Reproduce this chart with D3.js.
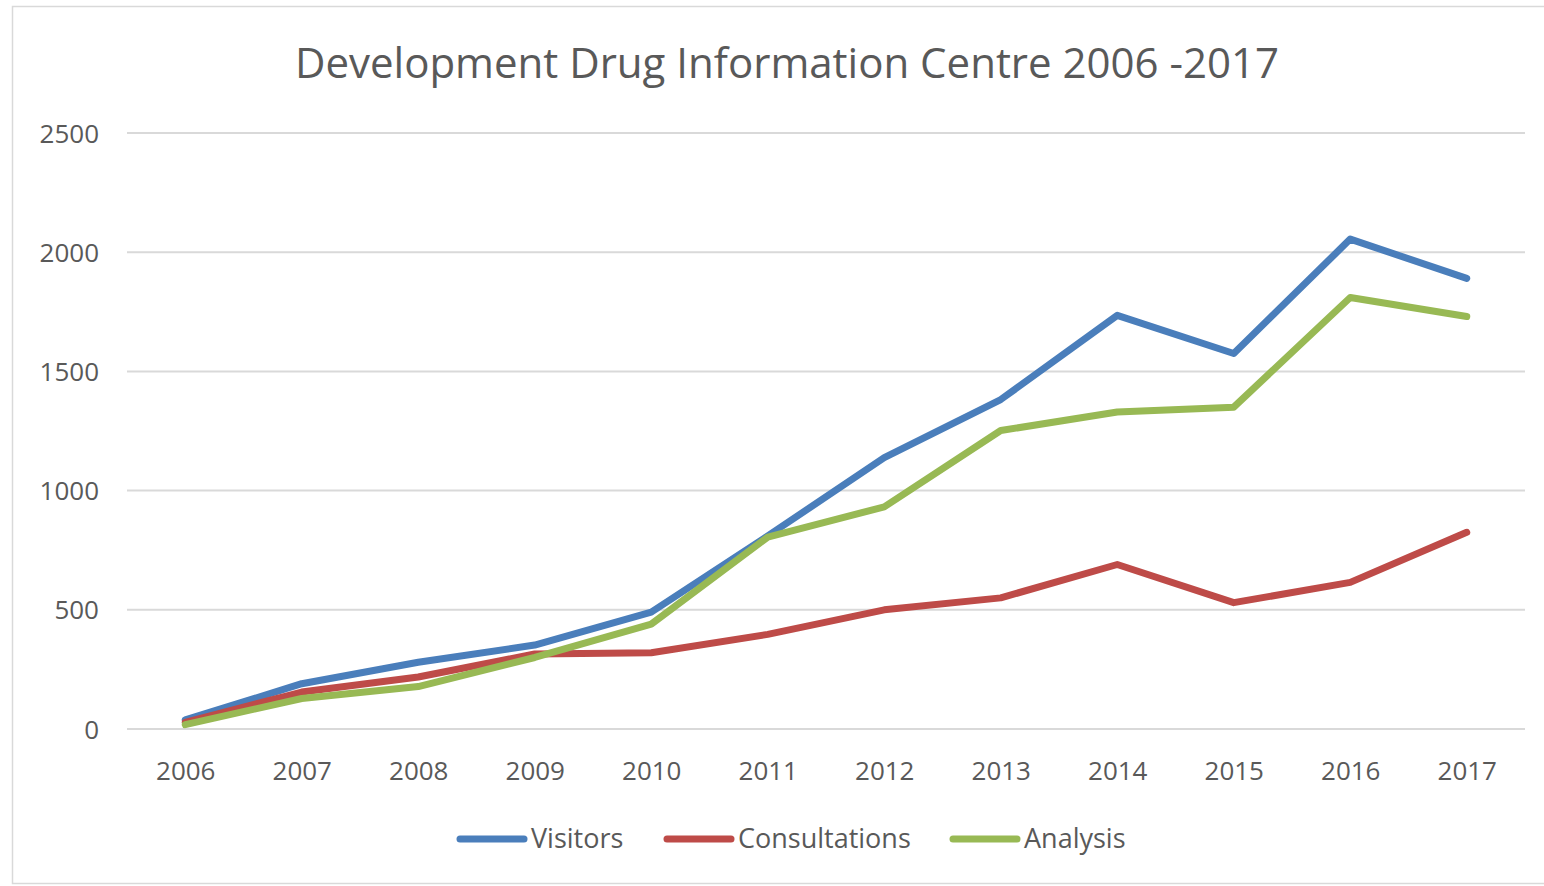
<!DOCTYPE html>
<html>
<head>
<meta charset="utf-8">
<script src="https://cdn.jsdelivr.net/npm/d3@7"></script>
<style>
  body { margin: 0; background: #fff; }
  svg text { font-family: "Open Sans", "DejaVu Sans", sans-serif; fill: #595959; }
</style>
</head>
<body>
<svg id="chart"></svg>
<script>
const years = ["2006", "2007", "2008", "2009", "2010", "2011", "2012", "2013", "2014", "2015", "2016", "2017"];
const visitors = [38, 190, 280, 352, 490, 810, 1138, 1382, 1735, 1575, 2055, 1890];
const consultations = [28, 155, 218, 315, 320, 397, 500, 550, 690, 530, 615, 825];
const analysis = [18, 128, 178, 300, 440, 805, 932, 1252, 1330, 1350, 1810, 1730];
const yTicks = [0, 500, 1000, 1500, 2000, 2500];
const seriesNames = ["Visitors", "Consultations", "Analysis"];
const seriesColors = ["#4a7ebb", "#be4b48", "#98b954"];

const width = 1544, height = 886;
const margin = { top: 133, right: 19, bottom: 157, left: 127 };

const svg = d3.select("#chart").attr("width", width).attr("height", height);

// chart frame
svg.append("rect")
  .attr("x", 12.5).attr("y", 6.5)
  .attr("width", width).attr("height", 877)
  .attr("fill", "#fff").attr("stroke", "#d9d9d9").attr("stroke-width", 1.5);

const x = d3.scalePoint()
  .domain(years)
  .range([margin.left, width - margin.right])
  .padding(0.5);

const y = d3.scaleLinear()
  .domain([0, 2500])
  .range([height - margin.bottom, margin.top]);

// gridlines
svg.append("g")
  .selectAll("line")
  .data(yTicks)
  .enter()
  .append("line")
  .attr("x1", margin.left).attr("x2", width - margin.right)
  .attr("y1", d => y(d)).attr("y2", d => y(d))
  .attr("stroke", "#d9d9d9").attr("stroke-width", 2);

// y axis labels
const yAxis = svg.append("g")
  .attr("transform", `translate(${margin.left - 28},0)`)
  .call(d3.axisLeft(y).tickValues(yTicks).tickFormat(d3.format("d")).tickSize(0).tickPadding(0));
yAxis.select(".domain").remove();
yAxis.selectAll("text")
  .style("font-size", "26px").attr("fill", "#595959").attr("dy", "0.35em");

// x axis labels
const xAxis = svg.append("g")
  .attr("transform", `translate(0,${height - margin.bottom + 42})`)
  .call(d3.axisBottom(x).tickSize(0).tickPadding(0));
xAxis.select(".domain").remove();
xAxis.selectAll("text")
  .style("font-size", "26px").attr("fill", "#595959").attr("dy", "0.35em");

// lines
const series = [visitors, consultations, analysis];
const line = d3.line()
  .x((d, i) => x(years[i]))
  .y(d => y(d));

svg.append("g")
  .selectAll("path")
  .data(series)
  .enter()
  .append("path")
  .attr("d", d => line(d))
  .attr("fill", "none")
  .attr("stroke", (d, i) => seriesColors[i])
  .attr("stroke-width", 7)
  .attr("stroke-linejoin", "round")
  .attr("stroke-linecap", "round");

// title
svg.append("text")
  .attr("x", 787).attr("y", 78)
  .attr("text-anchor", "middle")
  .style("font-size", "42px")
  .text("Development Drug Information Centre 2006 -2017");

// legend
const legendX = [457, 664, 950];
const legend = svg.append("g")
  .selectAll("g")
  .data(seriesNames)
  .enter()
  .append("g")
  .attr("transform", (d, i) => `translate(${legendX[i]},839)`);
legend.append("line")
  .attr("x1", 3).attr("x2", 67)
  .attr("stroke", (d, i) => seriesColors[i])
  .attr("stroke-width", 7)
  .attr("stroke-linecap", "round");
legend.append("text")
  .attr("x", 74).attr("dy", "0.35em")
  .style("font-size", "27px")
  .text(d => d);
</script>
</body>
</html>
